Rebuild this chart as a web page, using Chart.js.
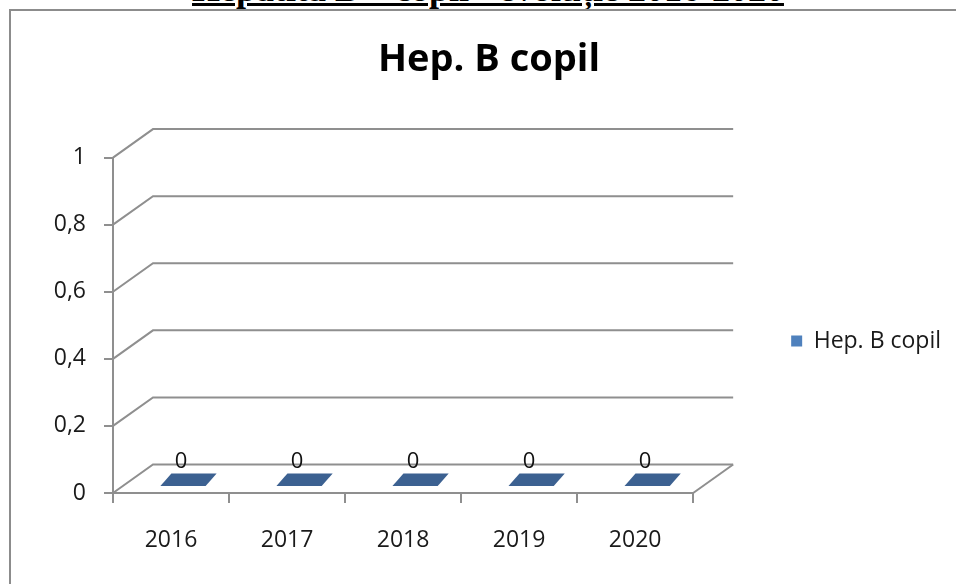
<!DOCTYPE html>
<html>
<head>
<meta charset="utf-8">
<script src="https://cdn.jsdelivr.net/npm/chart.js@4.4.1/dist/chart.umd.min.js"></script>
<style>
  html, body { margin: 0; padding: 0; background: #fff; overflow: hidden; width: 956px; height: 584px; }
  #heading { position: absolute; left: 10px; top: -29px; width: 956px; text-align: center; white-space: nowrap;
    font-family: "Liberation Serif", serif; font-weight: bold; font-size: 36px; line-height: 36px; text-decoration: underline; }
  #frame { position: absolute; left: 9px; top: 9px; width: 2000px; height: 2000px; border: 2px solid #8c8c8c; background: #fff; }
  #wrap { position: absolute; left: 0; top: 0; width: 956px; height: 584px; }
</style>
</head>
<body>
<div id="heading">Hepatita B – copii - evoluție 2016-2020</div>
<div id="frame"></div>
<div id="wrap"><canvas id="myChart" width="956" height="584"></canvas></div>
<script>
var years = ['2016', '2017', '2018', '2019', '2020'];
var hepBCopil = [0, 0, 0, 0, 0];
var yTicks = [0, 0.2, 0.4, 0.6, 0.8, 1];
var seriesName = 'Hep. B copil';
var chartTitle = 'Hep. B copil';

var lineColor = '#8f8f8f';
var depthX = 40;
var depthY = -28.5;

// draws the back wall, floor and the flat 3d bars
var wall3d = {
  id: 'wall3d',
  beforeDatasetsDraw: function(chart) {
    var ctx = chart.ctx;
    var area = chart.chartArea;
    var y = chart.scales.y;
    ctx.save();
    ctx.strokeStyle = lineColor;
    ctx.lineWidth = 2;
    y.ticks.forEach(function(t) {
      var py = y.getPixelForValue(t.value);
      ctx.beginPath();
      ctx.moveTo(area.left, py);
      ctx.lineTo(area.left + depthX, py + depthY);
      ctx.lineTo(area.right + depthX, py + depthY);
      ctx.stroke();
    });
    var base = y.getPixelForValue(0);
    ctx.beginPath();
    ctx.moveTo(area.right, base);
    ctx.lineTo(area.right + depthX, base + depthY);
    ctx.stroke();
    ctx.restore();
  },
  beforeDatasetDraw: function() {
    return false;
  },
  afterDatasetsDraw: function(chart) {
    var ctx = chart.ctx;
    var y = chart.scales.y;
    var meta = chart.getDatasetMeta(0);
    var skewX = 11;
    var skewY = depthY * 0.43;
    ctx.save();
    meta.data.forEach(function(bar, i) {
      var v = hepBCopil[i];
      var w = bar.width;
      var left = bar.x - w / 2 + depthX * 0.3;
      var yb = y.getPixelForValue(0) + depthY * 0.25;
      var yt = y.getPixelForValue(v) + depthY * 0.25;
      if (yb - yt > 0) {
        ctx.fillStyle = '#4F81BD';
        ctx.fillRect(left, yt, w, yb - yt);
        ctx.fillStyle = '#2F5585';
        ctx.beginPath();
        ctx.moveTo(left + w, yt);
        ctx.lineTo(left + w + skewX, yt + skewY);
        ctx.lineTo(left + w + skewX, yb + skewY);
        ctx.lineTo(left + w, yb);
        ctx.closePath();
        ctx.fill();
      }
      ctx.fillStyle = '#3C6191';
      ctx.beginPath();
      ctx.moveTo(left, yt);
      ctx.lineTo(left + w, yt);
      ctx.lineTo(left + w + skewX, yt + skewY);
      ctx.lineTo(left + skewX, yt + skewY);
      ctx.closePath();
      ctx.fill();

      ctx.fillStyle = '#111';
      ctx.font = '22px "Open Sans"';
      ctx.textAlign = 'center';
      ctx.textBaseline = 'alphabetic';
      ctx.fillText(String(v), bar.x + 10, yt + skewY - 6);
    });
    ctx.restore();
  }
};

var ctx = document.getElementById('myChart').getContext('2d');
var myChart = new Chart(ctx, {
  type: 'bar',
  data: {
    labels: years,
    datasets: [
      {
        label: seriesName,
        data: hepBCopil,
        backgroundColor: '#4F81BD',
        borderWidth: 0,
        barPercentage: 0.39,
        categoryPercentage: 1
      }
    ]
  },
  options: {
    responsive: false,
    animation: false,
    devicePixelRatio: 1,
    layout: { padding: { left: 27, right: 5, top: 0, bottom: 0 } },
    plugins: {
      title: {
        display: true,
        text: chartTitle,
        color: '#000',
        font: { family: 'Open Sans', size: 38, weight: 'bold' },
        padding: { top: 37, bottom: 75 }
      },
      legend: {
        position: 'right',
        maxWidth: 400,
        title: { display: true, text: '', font: { size: 10 }, padding: 43 },
        labels: {
          boxWidth: 11,
          boxHeight: 11,
          padding: 98,
          color: '#1a1a1a',
          font: { family: 'Open Sans', size: 23 }
        }
      },
      tooltip: { enabled: false }
    },
    scales: {
      x: {
        grid: { offset: true, drawOnChartArea: false, drawTicks: true, tickLength: 10, color: lineColor, lineWidth: 2 },
        border: { display: true, color: lineColor, width: 2 },
        ticks: { color: '#1a1a1a', padding: 24, font: { family: 'Open Sans', size: 23 } },
        afterFit: function(scale) { scale.height = 91; }
      },
      y: {
        min: 0,
        max: 1,
        afterBuildTicks: function(scale) {
          scale.ticks = yTicks.map(function(v) { return { value: v }; });
        },
        grid: { drawOnChartArea: false, drawTicks: true, tickLength: 9, color: lineColor, lineWidth: 2 },
        border: { display: true, color: lineColor, width: 2 },
        ticks: {
          color: '#1a1a1a',
          padding: 18,
          font: { family: 'Open Sans', size: 23 },
          callback: function(value) { return String(value).replace('.', ','); }
        },
        afterFit: function(scale) { scale.width = 86; }
      }
    }
  },
  plugins: [wall3d]
});
</script>
</body>
</html>
